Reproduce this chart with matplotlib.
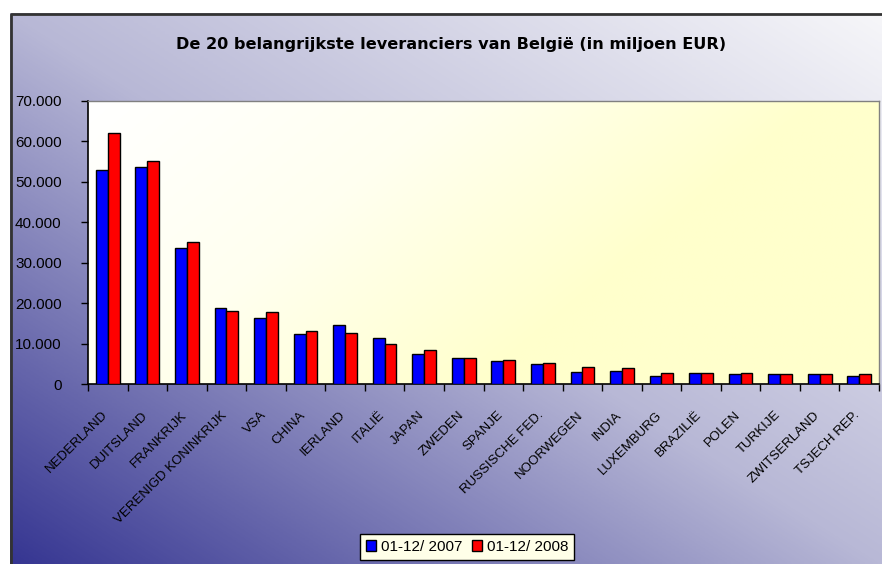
import numpy as np
import matplotlib
matplotlib.use("Agg")
import matplotlib.pyplot as plt
from matplotlib.colors import LinearSegmentedColormap
from matplotlib.ticker import FuncFormatter, FixedLocator

# Data (miljoen EUR)
countries = ["NEDERLAND", "DUITSLAND", "FRANKRIJK", "VERENIGD KONINKRIJK", "VSA",
             "CHINA", "IERLAND", "ITALIË", "JAPAN", "ZWEDEN", "SPANJE",
             "RUSSISCHE FED.", "NOORWEGEN", "INDIA", "LUXEMBURG", "BRAZILIË",
             "POLEN", "TURKIJE", "ZWITSERLAND", "TSJECH REP."]
values_2007 = [53000, 53700, 33700, 18800, 16400, 12400, 14500, 11300, 7400, 6400,
               5600, 5000, 2900, 3100, 2100, 2800, 2500, 2500, 2500, 2100]
values_2008 = [62200, 55100, 35100, 18100, 17700, 13100, 12700, 9900, 8500, 6400,
               6000, 5300, 4300, 3900, 2800, 2800, 2800, 2500, 2500, 2500]
series_labels = ["01-12/ 2007", "01-12/ 2008"]
title = "De 20 belangrijkste leveranciers van België (in miljoen EUR)"

plt.rcParams['font.family'] = ['Liberation Sans', 'DejaVu Sans']

W, H = 882, 564
fig = plt.figure(figsize=(W / 100, H / 100), dpi=100)
fig.patch.set_facecolor("white")

# background of the chart frame: diagonal gradient
bg = fig.add_axes([0, 0, 1, 1], zorder=-10)
bg.set_xlim(0, W)
bg.set_ylim(0, H)
bg.axis("off")
bg_cmap = LinearSegmentedColormap.from_list("bg", ["#363692", "#b8b8d6", "#f6f6f9"])
gx, gy = np.meshgrid(np.linspace(0, 1, 200), np.linspace(0, 1, 200))
bg.imshow((gx + gy) / 2, cmap=bg_cmap, origin="lower", extent=[10, W, 0, H - 13],
          aspect="auto", interpolation="bilinear")
bg.plot([10.5, 10.5, W], [0, H - 13.5, H - 13.5], color="#333333", lw=2, solid_capstyle="butt")

# plot area
ax = fig.add_axes([88 / W, 180 / H, 791 / W, 283 / H])
pa_cmap = LinearSegmentedColormap.from_list("pa", ["#ffffff", "#fffff0", "#ffffcc"])
ax.imshow(0.7 * gx + 0.3 * (1 - gy), cmap=pa_cmap, origin="lower",
          extent=[-0.5, 19.5, 0, 70000], aspect="auto", interpolation="bilinear",
          zorder=0, vmin=0, vmax=0.65)

x = np.arange(len(countries))
w = 0.3
ax.bar(x - w / 2, values_2007, w, color="#0000ff", edgecolor="black", linewidth=1,
       label=series_labels[0], zorder=3)
ax.bar(x + w / 2, values_2008, w, color="#ff0000", edgecolor="black", linewidth=1,
       label=series_labels[1], zorder=3)

ax.set_xlim(-0.5, 19.5)
ax.set_ylim(0, 70000)
ax.set_yticks(np.arange(0, 70001, 10000))
ax.yaxis.set_major_formatter(FuncFormatter(lambda v, p: f"{int(v):,}".replace(",", ".")))
ax.tick_params(axis="y", labelsize=11, length=5, width=1, direction="out", pad=14)

# labels sit a little left of the category centre, boundary ticks as minor ticks
ax.set_xticks(x - 0.15)
ax.set_xticklabels(countries, rotation=45, ha="right", va="top", rotation_mode="anchor",
                   fontsize=9.5, family=['Liberation Sans Narrow', 'Liberation Sans'])
ax.tick_params(axis="x", which="major", length=0, pad=18)
ax.xaxis.set_minor_locator(FixedLocator(np.arange(-0.5, 20, 1)))
ax.tick_params(axis="x", which="minor", length=5, width=1, direction="out")

for side in ["left", "bottom"]:
    ax.spines[side].set_color("black")
    ax.spines[side].set_linewidth(1.2)
for side in ["top", "right"]:
    ax.spines[side].set_color("#808080")
    ax.spines[side].set_linewidth(1)

fig.text(451 / W, 1 - 44 / H, title, ha="center", va="center", fontsize=11.6,
         fontweight="bold", family="DejaVu Sans")

leg = fig.legend(loc="upper center", bbox_to_anchor=(467 / W, 1 - 534 / H), ncol=2,
                 fontsize=11, frameon=True, fancybox=False, edgecolor="black",
                 facecolor="#ffffe8", framealpha=1, handlelength=0.7, handleheight=0.7,
                 handletextpad=0.3, columnspacing=0.6, borderpad=0.4, borderaxespad=0)
leg.get_frame().set_linewidth(1)

fig.savefig("out.png", dpi=100)
